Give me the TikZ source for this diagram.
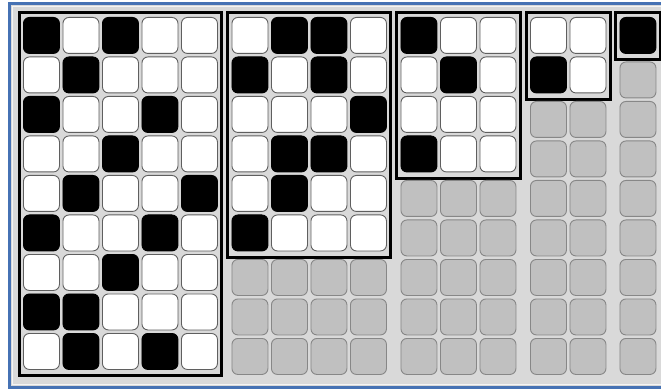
\documentclass[tikz,border=0pt]{standalone}
\usetikzlibrary{calc}
\definecolor{panelbg}{RGB}{217,217,217}
\definecolor{panelblue}{RGB}{70,114,180}
\definecolor{emptyfill}{RGB}{192,192,192}
\definecolor{emptyedge}{RGB}{135,135,135}
\definecolor{celledge}{RGB}{95,95,95}

\tikzset{
  cell/.style={rectangle, rounded corners=6pt, minimum size=36pt, inner sep=0pt, anchor=north west, line width=0.9pt},
  cell0/.style={cell, draw=celledge, fill=white},
  cell1/.style={cell, draw=black, fill=black},
  cellempty/.style={cell, draw=emptyedge, fill=emptyfill},
  blockframe/.style={draw=black, line width=3pt}
}

\begin{document}
\begin{tikzpicture}[x=1pt, y=-1pt]
\useasboundingbox (0,0) rectangle (661,390);
% panel behind the grid
\draw[panelblue, line width=3pt, fill=panelbg] (9.5,3.5) rectangle (680,387);
\draw[white!70!panelbg, line width=0.8pt] (12,6) rectangle (680,384.5);

% block a: 5 columns, 9 rows
\foreach \row [count=\r from 0] in {{1,0,1,0,0},{0,1,0,0,0},{1,0,0,1,0},{0,0,1,0,0},{0,1,0,0,1},{1,0,0,1,0},{0,0,1,0,0},{1,1,0,0,0},{0,1,0,1,0}}
  \foreach \v [count=\c from 0] in \row
    \node[cell\v] (a-\r-\c) at ({23+39.5*\c}, {17+39.5*\r}) {};
\draw[blockframe] ($(a-0-0.north west)+(-4,-4)$) rectangle ($(a-8-4.south east)+(4,6)$);

% block b: 4 columns, 6 rows
\foreach \row [count=\r from 0] in {{0,1,1,0},{1,0,1,0},{0,0,0,1},{0,1,1,0},{0,1,0,0},{1,0,0,0}}
  \foreach \v [count=\c from 0] in \row
    \node[cell\v] (b-\r-\c) at ({231.5+39.5*\c}, {17+39.5*\r}) {};
\draw[blockframe] ($(b-0-0.north west)+(-4,-4)$) rectangle ($(b-5-3.south east)+(4,6)$);
\foreach \r in {6,7,8}
  \foreach \c in {0,...,3}
    \node[cellempty] (b-\r-\c) at ({231.5+39.5*\c}, {22+39.5*\r}) {};

% block c: 3 columns, 4 rows
\foreach \row [count=\r from 0] in {{1,0,0},{0,1,0},{0,0,0},{1,0,0}}
  \foreach \v [count=\c from 0] in \row
    \node[cell\v] (c-\r-\c) at ({400.5+39.5*\c}, {17+39.5*\r}) {};
\draw[blockframe] ($(c-0-0.north west)+(-4,-4)$) rectangle ($(c-3-2.south east)+(4,6)$);
\foreach \r in {4,...,8}
  \foreach \c in {0,1,2}
    \node[cellempty] (c-\r-\c) at ({400.5+39.5*\c}, {22+39.5*\r}) {};

% block d: 2 columns, 2 rows
\foreach \row [count=\r from 0] in {{0,0},{1,0}}
  \foreach \v [count=\c from 0] in \row
    \node[cell\v] (d-\r-\c) at ({530+39.5*\c}, {17+39.5*\r}) {};
\draw[blockframe] ($(d-0-0.north west)+(-4,-4)$) rectangle ($(d-1-1.south east)+(4,6)$);
\foreach \r in {2,...,8}
  \foreach \c in {0,1}
    \node[cellempty] (d-\r-\c) at ({530+39.5*\c}, {22+39.5*\r}) {};

% block e: 1 column, 1 row
\node[cell1] (e-0-0) at (619.5,17) {};
\draw[blockframe] ($(e-0-0.north west)+(-4,-4)$) rectangle ($(e-0-0.south east)+(4,6)$);
\foreach \r in {1,...,8}
  \node[cellempty] (e-\r-0) at (619.5, {22+39.5*\r}) {};
\end{tikzpicture}
\end{document}
